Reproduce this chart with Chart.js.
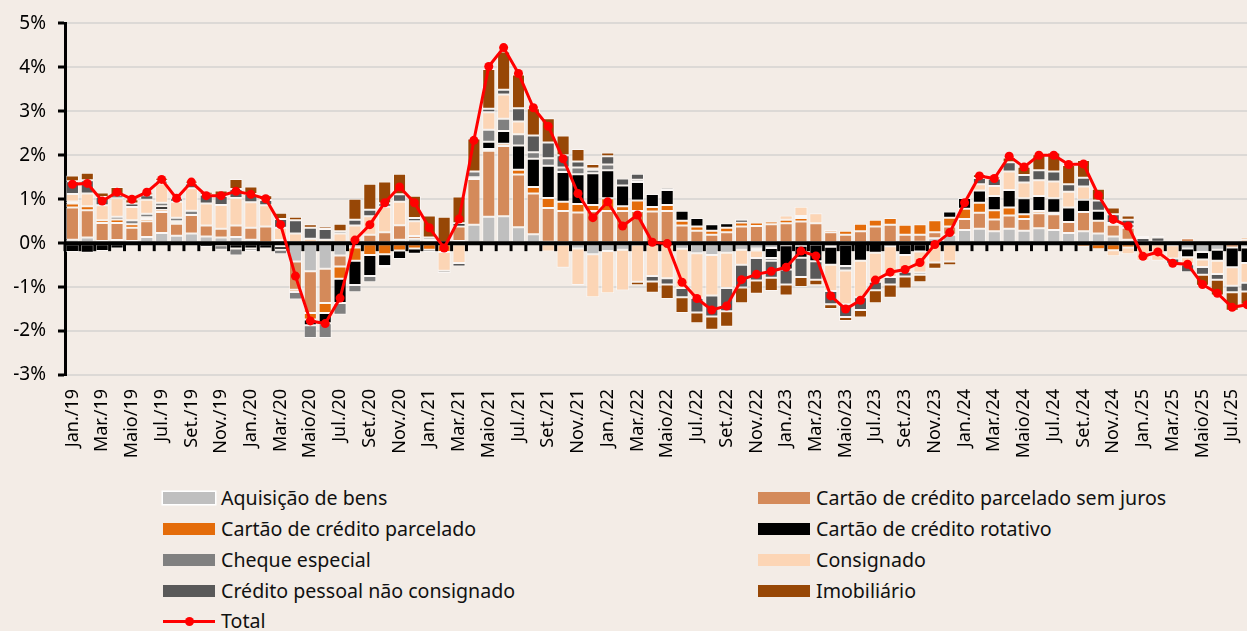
<!DOCTYPE html>
<html>
<head>
<meta charset="utf-8">
<script src="https://cdn.jsdelivr.net/npm/chart.js@4.4.1/dist/chart.umd.min.js"></script>
<style>
  html, body { margin: 0; padding: 0; background: #F3ECE6; overflow: hidden; }
  #wrap { position: relative; width: 1247px; height: 631px; overflow: hidden; }
  #chart { position: absolute; left: 0; top: 0; }
  .item { position: absolute; font-family: "Noto Sans", sans-serif; font-size: 19.6px; color: #111; line-height: 24px; white-space: nowrap; }
  .sw { position: absolute; width: 52px; height: 12px; }
</style>
</head>
<body>
<div id="wrap">
  <canvas id="chart" width="1259" height="480" style="width:1259px;height:480px"></canvas>
  <div id="legend"></div>
</div>
<script>
'use strict'
const monthNames = ['Jan.', 'Fev.', 'Mar.', 'Abr.', 'Maio', 'Jun.', 'Jul.', 'Ago.', 'Set.', 'Out.', 'Nov.', 'Dez.']
const years = ['19', '20', '21', '22', '23', '24', '25']
const labels = []
for (const yy of years) {
    for (const m of monthNames) {
        labels.push(m + '/' + yy)
    }
}
labels.length = 80

const aquisicao = [
    0.08, 0.13, 0.05, 0.07, 0.05, 0.14, 0.23, 0.17, 0.22, 0.15,
    0.13, 0.14, 0.08, 0.02, 0.02, -0.42, -0.64, -0.58, -0.28, -0.05,
    0.02, 0.02, 0.08, 0.10, 0.03, 0.02, 0.05, 0.42, 0.60, 0.61,
    0.36, 0.20, 0.03, -0.03, -0.12, -0.25, -0.18, -0.15, -0.03, -0.02,
    -0.02, -0.13, -0.23, -0.27, -0.22, -0.15, -0.12, -0.11, -0.05, -0.06,
    -0.03, -0.08, -0.03, -0.02, -0.02, -0.02, 0.00, 0.03, 0.11, 0.19,
    0.30, 0.33, 0.27, 0.33, 0.28, 0.34, 0.30, 0.23, 0.27, 0.22,
    0.15, 0.08, 0.02, 0.03, 0.02, -0.12, -0.20, -0.15, 0.00, -0.10
]
const semJuros = [
    0.73, 0.62, 0.41, 0.39, 0.30, 0.36, 0.48, 0.27, 0.42, 0.25,
    0.20, 0.26, 0.27, 0.36, 0.05, -0.64, -0.95, -0.78, -0.25, -0.05,
    0.17, 0.23, 0.33, 0.06, 0.00, 0.00, 0.33, 1.04, 1.50, 1.60,
    1.20, 0.93, 0.77, 0.73, 0.70, 0.73, 0.73, 0.73, 0.73, 0.72,
    0.73, 0.40, 0.28, 0.19, 0.25, 0.38, 0.39, 0.43, 0.45, 0.49,
    0.45, 0.25, 0.19, 0.27, 0.38, 0.42, 0.19, 0.16, 0.14, 0.19,
    0.25, 0.36, 0.27, 0.30, 0.27, 0.34, 0.36, 0.25, 0.44, 0.29,
    0.27, 0.27, 0.00, 0.00, 0.03, 0.11, 0.00, 0.00, -0.10, 0.08
]
const parcelado = [
    0.09, 0.09, 0.06, 0.08, 0.08, 0.05, 0.05, 0.03, 0.00, 0.00,
    0.00, 0.00, 0.00, 0.00, -0.07, -0.05, -0.15, -0.23, -0.28, -0.30,
    -0.27, -0.25, -0.17, -0.12, -0.15, -0.20, 0.00, 0.00, 0.04, 0.05,
    0.11, 0.15, 0.23, 0.21, 0.19, 0.14, 0.29, 0.11, 0.24, 0.10,
    0.14, 0.11, 0.10, 0.09, 0.10, 0.09, 0.08, 0.06, 0.08, 0.08,
    0.00, 0.05, 0.09, 0.17, 0.15, 0.15, 0.23, 0.24, 0.27, 0.20,
    0.23, 0.23, 0.21, 0.18, 0.11, 0.05, 0.03, 0.00, -0.08, -0.14,
    -0.16, -0.10, 0.00, 0.00, -0.05, 0.00, 0.00, 0.00, 0.06, 0.05
]
const rotativo = [
    -0.20, -0.22, -0.18, -0.12, -0.03, 0.04, 0.08, 0.03, 0.00, -0.09,
    -0.05, -0.12, -0.12, -0.12, -0.08, 0.00, -0.13, -0.23, -0.55, -0.55,
    -0.48, -0.27, -0.19, -0.12, -0.05, 0.00, 0.07, 0.04, 0.17, 0.29,
    0.55, 0.64, 0.73, 0.68, 0.68, 0.72, 0.64, 0.47, 0.42, 0.30,
    0.34, 0.23, 0.19, 0.15, 0.10, 0.06, -0.05, -0.23, -0.55, -0.27,
    -0.38, -0.41, -0.49, -0.38, -0.20, -0.05, -0.27, -0.19, -0.04, 0.14,
    0.25, 0.28, 0.32, 0.40, 0.36, 0.34, 0.33, 0.33, 0.28, 0.23,
    0.04, 0.00, 0.00, 0.00, 0.00, -0.20, -0.17, -0.25, -0.45, -0.35
]
const cheque = [
    0.05, 0.00, 0.00, 0.06, 0.09, 0.08, 0.08, 0.08, 0.10, 0.00,
    -0.10, -0.16, -0.06, 0.00, -0.10, -0.17, -0.29, -0.34, -0.27, -0.17,
    -0.14, -0.04, 0.00, 0.00, 0.00, 0.00, 0.00, 0.13, 0.27, 0.28,
    0.26, 0.15, 0.17, 0.10, 0.15, 0.08, 0.13, 0.00, 0.05, 0.00,
    0.05, 0.00, 0.00, 0.00, 0.00, 0.02, 0.00, -0.06, 0.00, 0.05,
    0.00, 0.00, -0.10, 0.00, 0.00, 0.00, 0.00, 0.00, 0.00, 0.00,
    0.00, 0.00, 0.00, 0.00, 0.00, 0.00, 0.00, 0.00, 0.00, 0.00,
    0.00, 0.08, 0.00, 0.00, 0.00, 0.00, 0.00, 0.00, 0.00, 0.00
]
const consignado = [
    0.17, 0.29, 0.34, 0.42, 0.30, 0.32, 0.44, 0.36, 0.51, 0.50,
    0.54, 0.63, 0.58, 0.48, 0.28, 0.22, 0.10, 0.08, 0.22, 0.40,
    0.42, 0.58, 0.53, 0.34, 0.05, -0.43, -0.45, 0.00, 0.40, 0.55,
    0.29, 0.00, -0.19, -0.53, -0.83, -0.98, -0.96, -0.93, -0.85, -0.73,
    -0.78, -0.89, -1.02, -0.92, -0.80, -0.34, -0.17, 0.00, 0.10, 0.21,
    0.23, -0.60, -0.77, -0.83, -0.66, -0.70, -0.38, -0.48, -0.40, -0.42,
    0.00, 0.14, 0.23, 0.42, 0.36, 0.36, 0.38, 0.36, 0.30, 0.00,
    -0.14, -0.15, -0.40, -0.40, -0.30, -0.16, -0.17, -0.30, -0.42, -0.45
]
const pessoal = [
    0.29, 0.30, 0.19, 0.07, 0.08, 0.10, 0.06, 0.08, 0.11, 0.20,
    0.20, 0.20, 0.19, 0.12, 0.20, 0.30, 0.25, 0.24, 0.05, 0.13,
    0.15, 0.08, 0.17, 0.07, 0.05, -0.05, -0.08, 0.00, 0.08, 0.11,
    0.30, 0.38, 0.36, 0.28, 0.14, 0.03, 0.19, 0.16, 0.14, -0.12,
    -0.14, -0.21, -0.33, -0.48, -0.53, -0.52, -0.51, -0.39, -0.34, -0.44,
    -0.42, -0.30, -0.29, -0.29, -0.19, -0.17, -0.11, -0.05, 0.00, 0.00,
    0.00, 0.14, 0.17, 0.21, 0.17, 0.23, 0.23, 0.17, 0.20, 0.23,
    0.20, 0.10, 0.10, 0.10, -0.12, -0.18, -0.18, -0.13, -0.15, -0.20
]
const imobiliario = [
    0.13, 0.17, 0.10, 0.19, 0.10, 0.06, 0.07, 0.02, 0.06, 0.07,
    0.13, 0.23, 0.17, 0.11, 0.14, 0.08, 0.08, 0.06, 0.17, 0.48,
    0.59, 0.49, 0.47, 0.51, 0.50, 0.58, 0.61, 0.75, 0.90, 0.87,
    0.77, 0.62, 0.55, 0.45, 0.28, 0.10, 0.08, 0.00, -0.08, -0.26,
    -0.33, -0.36, -0.24, -0.30, -0.35, -0.36, -0.30, -0.30, -0.25, -0.23,
    -0.13, -0.11, -0.09, -0.17, -0.30, -0.30, -0.27, -0.17, -0.14, -0.08,
    0.00, 0.09, 0.05, 0.11, 0.19, 0.36, 0.43, 0.44, 0.40, 0.27,
    0.15, 0.10, 0.04, 0.04, 0.00, 0.00, -0.25, -0.36, -0.42, -0.30
]
const total = [
    1.34, 1.36, 0.96, 1.16, 1.00, 1.16, 1.45, 1.02, 1.39, 1.08,
    1.08, 1.18, 1.11, 1.01, 0.42, -0.75, -1.77, -1.83, -1.25, 0.07,
    0.42, 0.92, 1.28, 0.92, 0.35, -0.11, 0.55, 2.34, 4.02, 4.45,
    3.86, 3.08, 2.66, 1.92, 1.13, 0.58, 0.94, 0.39, 0.64, 0.02,
    -0.01, -0.89, -1.26, -1.52, -1.43, -0.83, -0.71, -0.64, -0.55, -0.18,
    -0.29, -1.20, -1.50, -1.30, -0.84, -0.66, -0.60, -0.44, -0.03, 0.24,
    0.92, 1.53, 1.47, 1.98, 1.73, 2.00, 2.00, 1.79, 1.80, 1.09,
    0.54, 0.39, -0.30, -0.20, -0.46, -0.48, -0.94, -1.14, -1.46, -1.40
]

const series = [
    { label: 'Aquisição de bens', data: aquisicao, color: '#BFBFBF' },
    { label: 'Cartão de crédito parcelado sem juros', data: semJuros, color: '#D48A5A' },
    { label: 'Cartão de crédito parcelado', data: parcelado, color: '#E46C0A' },
    { label: 'Cartão de crédito rotativo', data: rotativo, color: '#000000' },
    { label: 'Cheque especial', data: cheque, color: '#808080' },
    { label: 'Consignado', data: consignado, color: '#FCD5B5' },
    { label: 'Crédito pessoal não consignado', data: pessoal, color: '#595959' },
    { label: 'Imobiliário', data: imobiliario, color: '#974706' }
]

const datasets = series.map(s => ({
    type: 'bar',
    label: s.label,
    data: s.data,
    backgroundColor: s.color,
    borderColor: 'rgba(255,255,255,0.55)',
    borderWidth: 1,
    borderSkipped: false,
    categoryPercentage: 0.88,
    barPercentage: 1,
    order: 1
}))
datasets.push({
    type: 'line',
    label: 'Total',
    data: total,
    stack: 'total',
    borderColor: '#FF0000',
    backgroundColor: '#FF0000',
    borderWidth: 3,
    pointRadius: 4.5,
    pointBorderWidth: 0,
    tension: 0,
    order: 0
})

// black zero line with small ticks, drawn over the bars but under the total line
const zeroLine = {
    id: 'zeroLine',
    beforeDatasetDraw(chart, args) {
        if (args.index !== 8) return
        const ctx = chart.ctx
        const area = chart.chartArea
        const x = chart.scales.x
        const y0 = chart.scales.y.getPixelForValue(0)
        const step = x.getPixelForValue(1) - x.getPixelForValue(0)
        ctx.save()
        ctx.strokeStyle = '#000'
        ctx.lineWidth = 4
        ctx.beginPath()
        ctx.moveTo(area.left, y0)
        ctx.lineTo(area.right, y0)
        ctx.stroke()
        ctx.lineWidth = 3
        for (let i = 0; i <= labels.length; i++) {
            const px = x.getPixelForValue(i) - step / 2
            ctx.beginPath()
            ctx.moveTo(px, y0)
            ctx.lineTo(px, y0 + 8)
            ctx.stroke()
        }
        ctx.restore()
    }
}

new Chart(document.getElementById('chart'), {
    type: 'bar',
    data: { labels: labels, datasets: datasets },
    plugins: [zeroLine],
    options: {
        responsive: false,
        animation: false,
        devicePixelRatio: 1,
        layout: { padding: { top: 23, left: 0, right: 0, bottom: 0 } },
        plugins: { legend: { display: false }, tooltip: { enabled: false } },
        scales: {
            x: {
                stacked: true,
                offset: true,
                grid: { display: false, drawTicks: false },
                border: { display: false },
                ticks: {
                    autoSkip: false,
                    maxRotation: 90,
                    minRotation: 90,
                    padding: 14,
                    color: '#000',
                    font: { family: 'Noto Sans', size: 18 },
                    callback: (v, i) => (i % 2 === 0 ? labels[i] : '')
                },
                afterFit: s => { s.height = 105; s.paddingLeft = 0; s.paddingRight = 0 }
            },
            y: {
                stacked: true,
                min: -3,
                max: 5,
                ticks: {
                    stepSize: 1,
                    padding: 12,
                    color: '#000',
                    font: { family: 'Noto Sans', size: 19 },
                    callback: v => v + '%'
                },
                grid: { color: '#DCD9D6', lineWidth: 2, tickLength: 7, tickColor: '#000', tickWidth: 3 },
                border: { display: true, color: '#000', width: 3 },
                afterFit: s => { s.width = 65 }
            }
        }
    }
})

// legend in two columns, as in the original
const legendDiv = document.getElementById('legend')
const rows = [498, 529, 560, 591, 621]
const legendItems = series.map(s => ({ label: s.label, color: s.color }))
legendItems.push({ label: 'Total', color: '#FF0000', line: true })
legendItems.forEach((it, i) => {
    const col = i % 2
    const cy = rows[Math.floor(i / 2)]
    const left = col === 0 ? 163 : 758
    if (it.line) {
        const ln = document.createElement('div')
        ln.className = 'sw'
        ln.style.cssText = `left:${left}px;top:${cy - 1.5}px;height:3px;background:${it.color}`
        legendDiv.appendChild(ln)
        const dot = document.createElement('div')
        dot.className = 'sw'
        dot.style.cssText = `left:${left + 22}px;top:${cy - 4.5}px;width:9px;height:9px;border-radius:50%;background:${it.color}`
        legendDiv.appendChild(dot)
    } else {
        const sw = document.createElement('div')
        sw.className = 'sw'
        sw.style.cssText = `left:${left}px;top:${cy - 6}px;background:${it.color}`
        if (i === 0) sw.style.boxShadow = '0 0 0 1.5px #fff'
        legendDiv.appendChild(sw)
    }
    const tx = document.createElement('div')
    tx.className = 'item'
    tx.textContent = it.label
    tx.style.left = (left + 58) + 'px'
    tx.style.top = (cy - 12) + 'px'
    legendDiv.appendChild(tx)
})
</script>
</body>
</html>
